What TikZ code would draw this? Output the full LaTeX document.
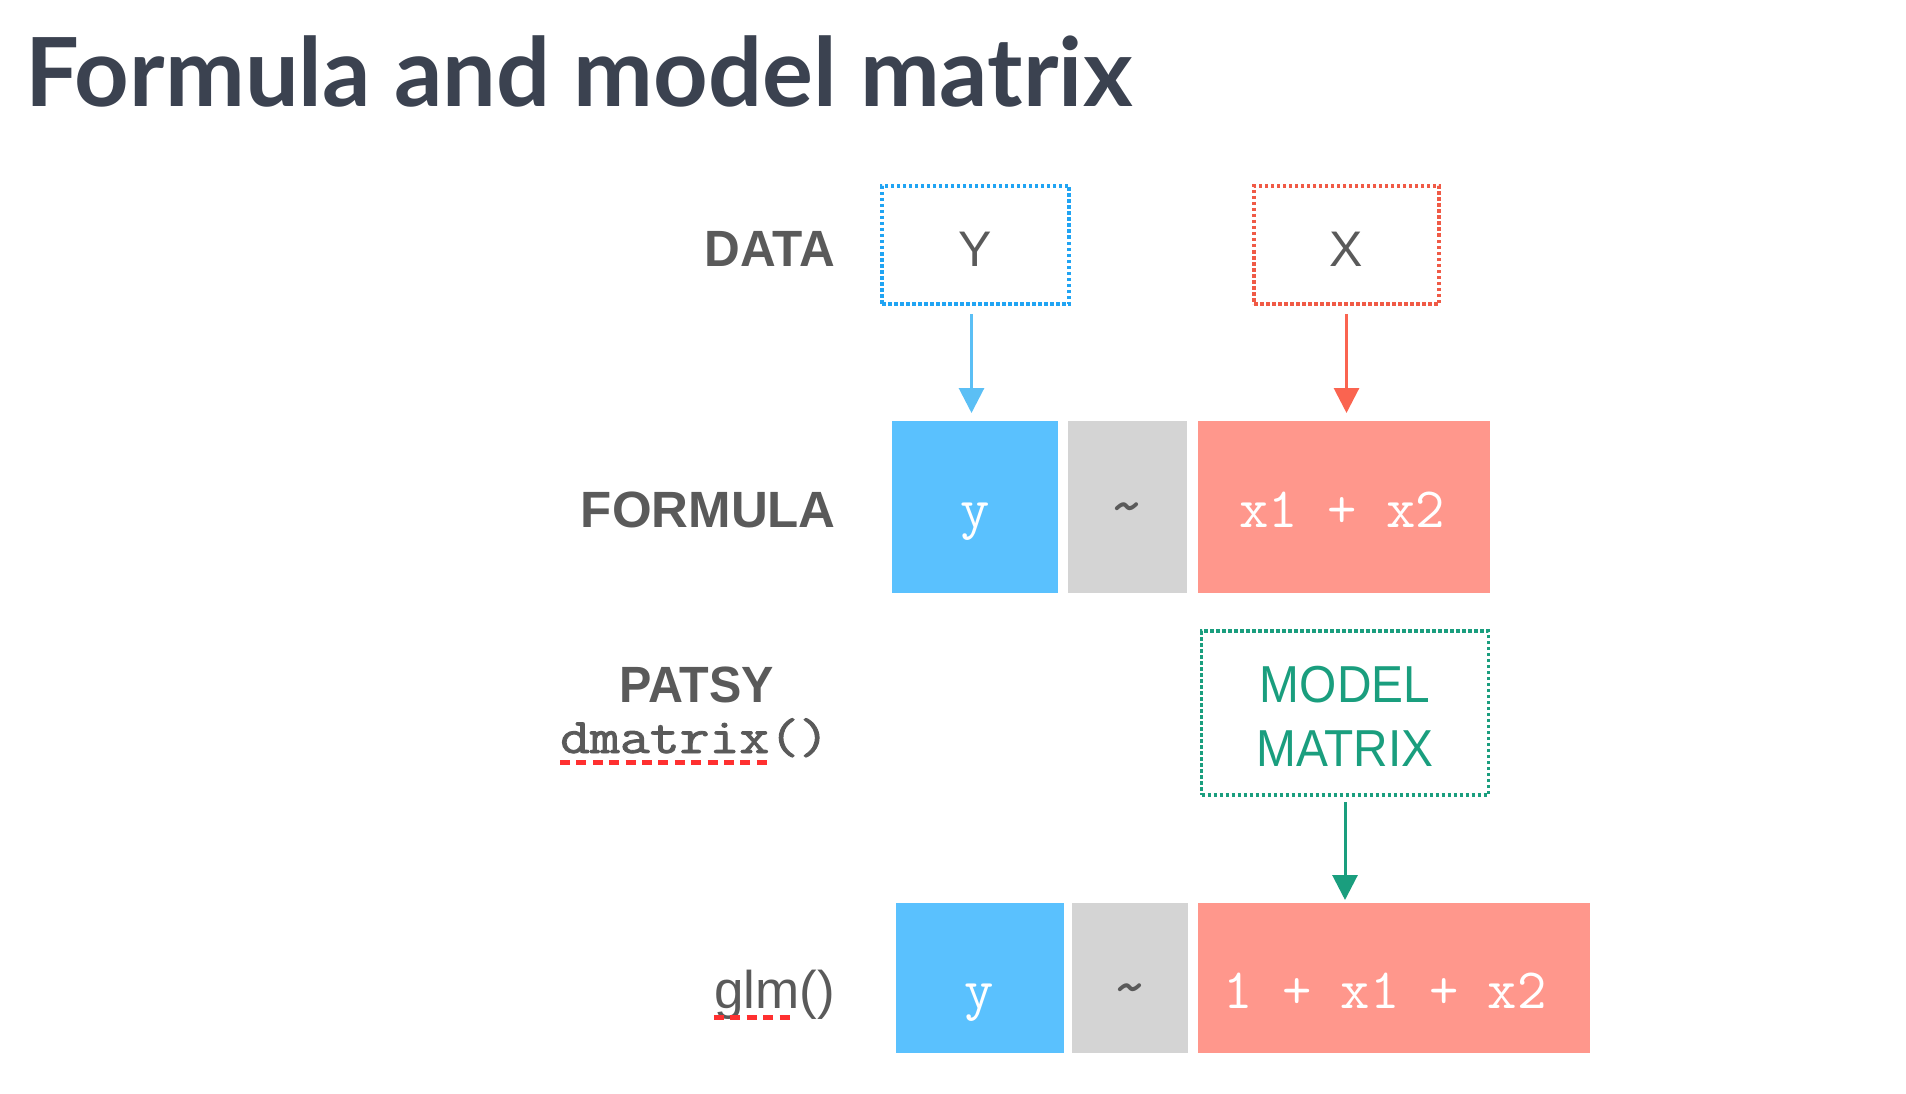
\documentclass[tikz,border=0pt]{standalone}
\usepackage{fontspec}
\usepackage{graphicx}
\setmainfont{Liberation Sans}
\newfontfamily\titlefont{Lato}
\newfontfamily\mono{Latin Modern Mono}
\newfontfamily\dmfont[FakeBold=1.6]{Latin Modern Mono}
\usetikzlibrary{arrows.meta}
\definecolor{titlecol}{HTML}{3B4250}
\definecolor{labcol}{HTML}{5A5A5A}
\definecolor{bluefill}{HTML}{5AC1FE}
\definecolor{grayfill}{HTML}{D4D4D4}
\definecolor{redfill}{HTML}{FF978C}
\definecolor{bluedot}{HTML}{20A4F3}
\definecolor{reddot}{HTML}{F05A46}
\definecolor{greencol}{HTML}{1A9E7E}
\definecolor{bluearr}{HTML}{5BBFF5}
\definecolor{redarr}{HTML}{FA6450}
\definecolor{squigred}{HTML}{FF3030}
\begin{document}
\begin{tikzpicture}[x=1pt,y=-1pt,
  dotbox/.style={draw=#1, line width=3.5pt, dash pattern=on 3.5pt off 2.5pt, inner sep=0pt, outer sep=0pt},
  fillbox/.style={fill=#1, draw=none, inner sep=0pt, outer sep=0pt, anchor=north west},
  lab/.style={inner sep=0pt, text=labcol, font=\fontsize{51}{55}\selectfont\bfseries},
  boxlab/.style={inner sep=0pt, text=labcol, font=\fontsize{50}{55}\selectfont},
  monow/.style={inner sep=0pt, anchor=base, text=white, font=\mono\fontsize{57}{60}\selectfont},
  tildelab/.style={inner sep=0pt, anchor=base, text=labcol, font=\mono\fontsize{68}{70}\selectfont},
  arr/.style={line width=3pt, -{Triangle[width=25pt,length=25pt]}},
  squig/.style={draw=squigred, line width=5pt, dash pattern=on 10pt off 6.4pt}
]
\useasboundingbox (0,0) rectangle (1906,1094);

% title
\node[inner sep=0pt, anchor=base west, text=titlecol, font=\titlefont\bfseries\fontsize{95.3}{100}\selectfont] (title) at (25,107) {Formula and model matrix};

% row labels
\node[lab, anchor=base east] (ldata) at (835,266) {\scalebox{0.97}[1]{DATA}};
\node[lab, anchor=base east] (lformula) at (836,527) {\scalebox{1.0}[1]{FORMULA}};
\node[lab, anchor=base] (lpatsy) at (697,702) {\scalebox{0.95}[1]{PATSY}};
\node[inner sep=0pt, anchor=base west, text=labcol, font=\dmfont\fontsize{50}{54}\selectfont] (ldm) at (560,753) {\scalebox{1.16}[1]{dmatrix()}};
\node[inner sep=0pt, anchor=base east, text=labcol, font=\fontsize{53}{57}\selectfont] (lglm) at (835,1008) {glm()};

\draw[squig] ([yshift=-9.5pt]ldm.base west) -- ++(213,0);
\draw[squig] ([yshift=-9pt]lglm.base west) -- ++(80,0);

% data boxes
\node[dotbox=bluedot, minimum width=187pt, minimum height=118pt] (Ybox) at (975.5,245) {};
\node[dotbox=reddot, minimum width=185pt, minimum height=118pt] (Xbox) at (1346.5,245) {};
\node[boxlab, anchor=base] (Ytxt) at (975,266) {Y};
\node[boxlab, anchor=base] (Xtxt) at (1346,266) {X};

% formula row
\node[fillbox=bluefill, minimum width=166pt, minimum height=172pt] (fy) at (892,421) {};
\node[fillbox=grayfill, minimum width=119pt, minimum height=172pt] (ft) at (1068,421) {};
\node[fillbox=redfill, minimum width=292pt, minimum height=172pt] (fx) at (1198,421) {};
\node[monow] (fytxt) at (975,527) {y};
\node[tildelab] (fttxt) at (1127,527) {\char`\~};
\node[monow] (fxtxt) at (1342,527) {x1 + x2};

% model matrix box
\node[dotbox=greencol, minimum width=287pt, minimum height=164pt] (mm) at (1345,713) {};
\node[inner sep=0pt, anchor=base, text=greencol, font=\fontsize{52}{56}\selectfont] (mm1) at (1345,702) {\scalebox{0.92}[1]{MODEL}};
\node[inner sep=0pt, anchor=base, text=greencol, font=\fontsize{52}{56}\selectfont] (mm2) at (1345,766) {\scalebox{0.92}[1]{MATRIX}};

% glm row
\node[fillbox=bluefill, minimum width=168pt, minimum height=150pt] (gy) at (896,903) {};
\node[fillbox=grayfill, minimum width=116pt, minimum height=150pt] (gt) at (1072,903) {};
\node[fillbox=redfill, minimum width=392pt, minimum height=150pt] (gx) at (1198,903) {};
\node[monow] (gytxt) at (979,1008) {y};
\node[tildelab] (gttxt) at (1130,1008) {\char`\~};
\node[monow] (gxtxt) at (1385,1008) {1 + x1 + x2};

% arrows
\draw[arr, bluearr, shorten <=10pt, shorten >=8pt] ([xshift=-4pt]Ybox.south) -- ([xshift=-4pt]Ybox.south |- fy.north);
\draw[arr, redarr, shorten <=10pt, shorten >=8pt] (Xbox.south) -- (Xbox.south |- fx.north);
\draw[arr, greencol, shorten <=7pt, shorten >=3pt] (mm.south) -- (mm.south |- gx.north);
\end{tikzpicture}
\end{document}
